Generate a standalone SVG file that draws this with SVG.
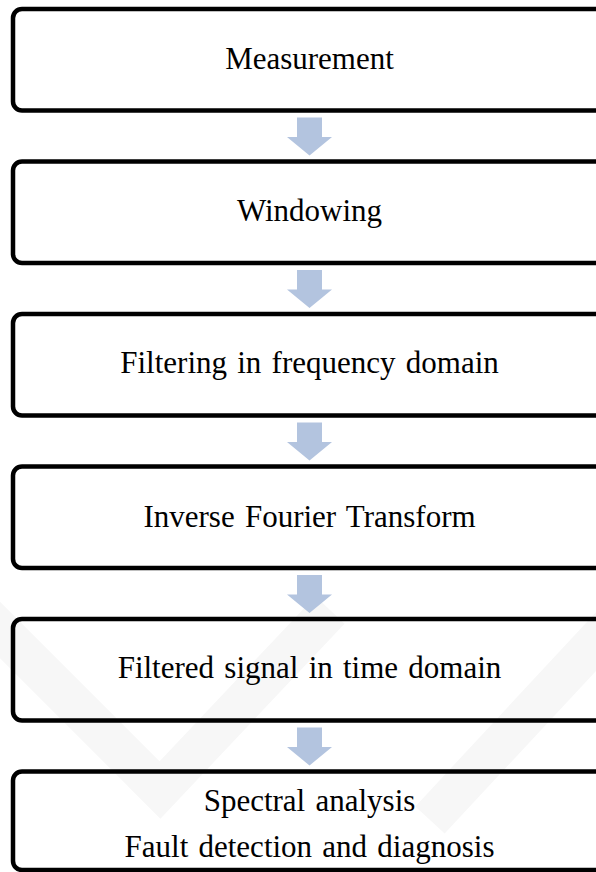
<svg xmlns="http://www.w3.org/2000/svg" width="596" height="872" viewBox="0 0 596 872">
<style>
.box{fill:none;stroke:#000;stroke-width:4.5}
.lbl{font-family:"Liberation Serif","Times New Roman",serif;font-size:31px;fill:#000;text-anchor:middle;word-spacing:2.5px}
.arr{fill:#b3c4df}
.wm{fill:none;stroke:#f7f7f7;stroke-width:40}
</style>
<defs>
<path id="arrow" class="arr" d="M297 0 H322 V19.5 H332 L309.5 38 L287 19.5 H297 Z"/>
</defs>
<rect width="596" height="872" fill="#fff"/>
<g id="watermark">
<path class="wm" d="M-30 600 L160 790 L330 610"/>
<path class="wm" d="M430 820 L630 605"/>
</g>
<g id="connectors">
<use href="#arrow" y="117.5"/>
<use href="#arrow" y="270"/>
<use href="#arrow" y="422.5"/>
<use href="#arrow" y="575"/>
<use href="#arrow" y="727.5"/>
</g>
<g id="n1"><rect class="box" x="13" y="9" width="640" height="101.5" rx="9"/><text class="lbl" x="309.5" y="69">Measurement</text></g>
<g id="n2"><rect class="box" x="13" y="161.5" width="640" height="101.5" rx="9"/><text class="lbl" x="309.5" y="220.5">Windowing</text></g>
<g id="n3"><rect class="box" x="13" y="314" width="640" height="101.5" rx="9"/><text class="lbl" x="309.5" y="372.5">Filtering in frequency domain</text></g>
<g id="n4"><rect class="box" x="13" y="466.5" width="640" height="101.5" rx="9"/><text class="lbl" x="309.5" y="527">Inverse Fourier Transform</text></g>
<g id="n5"><rect class="box" x="13" y="619" width="640" height="101.5" rx="9"/><text class="lbl" x="309.5" y="678">Filtered signal in time domain</text></g>
<g id="n6"><rect class="box" x="13" y="771.5" width="640" height="98.5" rx="9"/><text class="lbl" x="309.5" y="811">Spectral analysis</text><text class="lbl" x="309.5" y="857">Fault detection and diagnosis</text></g>
</svg>
